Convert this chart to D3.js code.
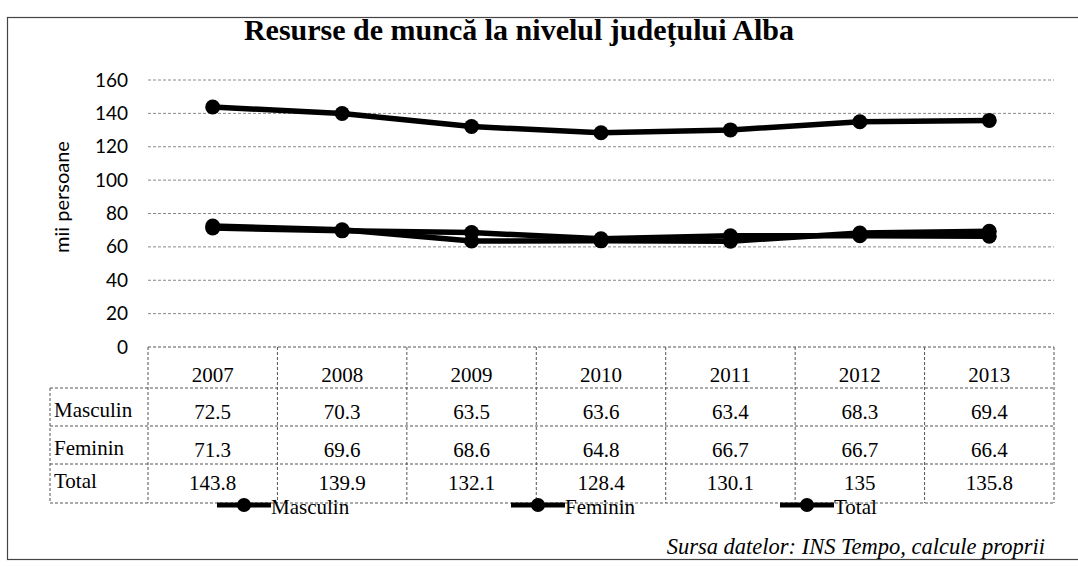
<!DOCTYPE html>
<html>
<head>
<meta charset="utf-8">
<script src="https://cdn.jsdelivr.net/npm/d3@7"></script>
<style>
  body { margin: 0; background: #fff; }
  svg { display: block; }
</style>
</head>
<body>
<svg id="chart" width="1078" height="567"></svg>
<script>
// the data
const years = ["2007", "2008", "2009", "2010", "2011", "2012", "2013"];
const masculin = [72.5, 70.3, 63.5, 63.6, 63.4, 68.3, 69.4];
const feminin = [71.3, 69.6, 68.6, 64.8, 66.7, 66.7, 66.4];
const total = [143.8, 139.9, 132.1, 128.4, 130.1, 135, 135.8];
const seriesNames = ["Masculin", "Feminin", "Total"];
const yTicks = [0, 20, 40, 60, 80, 100, 120, 140, 160];

const series = [masculin, feminin, total];

let svg = d3.select("#chart");

const serif = "'Liberation Serif', 'Times New Roman', serif";
const sans = "Lato, 'Open Sans', sans-serif";

// outer frame (the right side is cut off in the scan)
svg.append("rect")
  .attr("x", 7.5).attr("y", 17.5)
  .attr("width", 1090).attr("height", 542)
  .attr("fill", "none")
  .attr("stroke", "#444")
  .attr("stroke-width", 1.2);

// title
svg.append("text")
  .attr("x", 519).attr("y", 40)
  .attr("text-anchor", "middle")
  .attr("font-family", serif)
  .attr("font-weight", "bold")
  .attr("font-size", 30)
  .text("Resurse de muncă la nivelul județului Alba");

// scales
let x = d3.scaleBand().domain(years).range([148, 1054]);
let y = d3.scaleLinear().domain([0, 160]).range([347, 80]);

// grid lines
svg.append("g")
  .selectAll("line")
  .data(yTicks.filter(d => d > 0))
  .join("line")
  .attr("x1", 148).attr("x2", 1054)
  .attr("y1", d => y(d)).attr("y2", d => y(d))
  .attr("stroke", "#888")
  .attr("stroke-width", 1)
  .attr("stroke-dasharray", "3,2");

// y axis labels
let yAxis = svg.append("g")
  .attr("transform", "translate(136,0)")
  .call(d3.axisLeft(y).tickValues(yTicks).tickSize(0).tickPadding(8));
yAxis.select(".domain").remove();
yAxis.selectAll("text")
  .attr("font-family", sans)
  .attr("font-size", 19)
  .attr("fill", "#000");

svg.append("text")
  .attr("transform", "translate(69,197) rotate(-90)")
  .attr("text-anchor", "middle")
  .attr("font-family", sans)
  .attr("font-size", 20)
  .text("mii persoane");

// lines + markers
let line = d3.line()
  .x((d, i) => x(years[i]) + x.bandwidth() / 2)
  .y(d => y(d));

series.forEach(function (s) {
  svg.append("path")
    .datum(s)
    .attr("d", line)
    .attr("fill", "none")
    .attr("stroke", "#000")
    .attr("stroke-width", 5.5)
    .attr("stroke-linejoin", "round");
  svg.append("g")
    .selectAll("circle")
    .data(s)
    .join("circle")
    .attr("cx", (d, i) => x(years[i]) + x.bandwidth() / 2)
    .attr("cy", d => y(d))
    .attr("r", 7.5)
    .attr("fill", "#000");
});

// data table
const rowTop = [347, 388, 426, 464];
const rowBottom = 503;
const labelLeft = 50;
let table = svg.append("g")
  .attr("stroke", "#555")
  .attr("stroke-width", 1)
  .attr("stroke-dasharray", "3,2")
  .attr("fill", "none");

// horizontal rules
rowTop.concat([rowBottom]).forEach(function (ry, i) {
  table.append("line")
    .attr("x1", i === 0 ? 148 : labelLeft).attr("x2", 1054)
    .attr("y1", ry).attr("y2", ry);
});
// vertical rules
table.append("line")
  .attr("x1", labelLeft).attr("x2", labelLeft)
  .attr("y1", rowTop[1]).attr("y2", rowBottom);
years.forEach(function (yr) {
  table.append("line")
    .attr("x1", x(yr)).attr("x2", x(yr))
    .attr("y1", rowTop[0]).attr("y2", rowBottom);
});
table.append("line")
  .attr("x1", 1054).attr("x2", 1054)
  .attr("y1", rowTop[0]).attr("y2", rowBottom);

// year header
svg.append("g")
  .selectAll("text")
  .data(years)
  .join("text")
  .attr("x", d => x(d) + x.bandwidth() / 2)
  .attr("y", 382)
  .attr("text-anchor", "middle")
  .attr("font-family", serif)
  .attr("font-size", 21)
  .text(d => d);

const rowBase = [419, 457, 490];
series.forEach(function (s, r) {
  svg.append("text")
    .attr("x", 54)
    .attr("y", rowBase[r] - 2)
    .attr("font-family", serif)
    .attr("font-size", 21)
    .text(seriesNames[r]);
  svg.append("g")
    .selectAll("text")
    .data(s)
    .join("text")
    .attr("x", (d, i) => x(years[i]) + x.bandwidth() / 2)
    .attr("y", rowBase[r])
    .attr("text-anchor", "middle")
    .attr("font-family", serif)
    .attr("font-size", 21)
    .text(d => d);
});

// legend (overlaps the table bottom, like the original)
const legendX = [217, 511, 780];
const legendY = 505;
seriesNames.forEach(function (name, i) {
  let g = svg.append("g").attr("transform", `translate(${legendX[i]},${legendY})`);
  g.append("line")
    .attr("x1", 0).attr("x2", 54)
    .attr("stroke", "#000").attr("stroke-width", 5);
  g.append("circle").attr("cx", 27).attr("r", 7).attr("fill", "#000");
  g.append("text")
    .attr("x", 54).attr("y", 9)
    .attr("font-family", serif)
    .attr("font-size", 21)
    .text(name);
});

// source note
svg.append("text")
  .attr("x", 1045).attr("y", 554)
  .attr("text-anchor", "end")
  .attr("font-family", serif)
  .attr("font-style", "italic")
  .attr("font-size", 22.5)
  .text("Sursa datelor: INS Tempo, calcule proprii");
</script>
</body>
</html>
